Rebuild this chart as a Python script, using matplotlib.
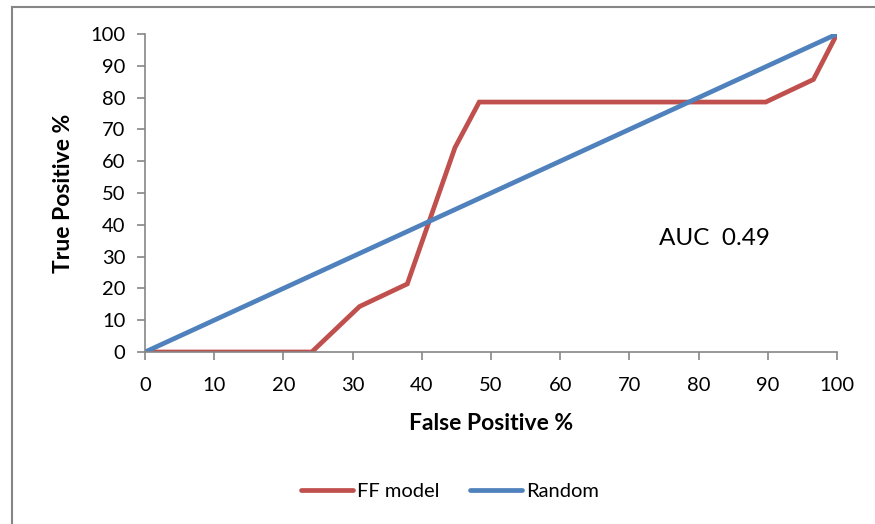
import numpy as np
import matplotlib.pyplot as plt
from matplotlib.lines import Line2D

# datos da curva ROC
fp_model = [0, 24.1, 31.0, 37.9, 44.8, 48.3, 89.7, 96.6, 100]
tp_model = [0, 0, 14.3, 21.4, 64.3, 78.6, 78.6, 85.7, 100]
fp_random = [0, 100]
tp_random = [0, 100]
ticks = list(range(0, 101, 10))
auc_label = "AUC  0.49"

plt.rcParams['font.family'] = ['Lato', 'DejaVu Sans']
grey = '#868686'

fig = plt.figure(figsize=(8.75, 5.24), dpi=100)
W, H = 875, 524
ax = fig.add_axes([145 / W, 1 - 352 / H, (837 - 145) / W, (352 - 34) / H])

ax.plot(fp_model, tp_model, color='#C0504D', lw=3.4, label='FF model',
        solid_capstyle='round', solid_joinstyle='miter')
ax.plot(fp_random, tp_random, color='#4F81BD', lw=3.4, label='Random',
        solid_capstyle='round')

ax.set_xlim(0, 100)
ax.set_ylim(0, 100)
ax.set_xticks(ticks)
ax.set_yticks(ticks)
for s in ['top', 'right']:
    ax.spines[s].set_visible(False)
for s in ['left', 'bottom']:
    ax.spines[s].set_color(grey)
    ax.spines[s].set_linewidth(1.2)
ax.tick_params(colors=grey, labelcolor='black', labelsize=14.5, length=6, width=1.2)
ax.tick_params(axis='y', pad=8)
ax.tick_params(axis='x', pad=12)

ax.set_xlabel('False Positive %', fontsize=16.5, fontweight='bold', labelpad=14)
ax.set_ylabel('True Positive %', fontsize=16.5, fontweight='bold', labelpad=12)
ax.text(74.3, 33.8, auc_label, fontsize=17.5)

handles = [Line2D([], [], color='#C0504D', lw=3.4, solid_capstyle='round'),
           Line2D([], [], color='#4F81BD', lw=3.4, solid_capstyle='round')]
fig.legend(handles, ['FF model', 'Random'], loc='center', bbox_to_anchor=(450 / W, 1 - 491 / H),
           ncol=2, frameon=False, fontsize=14.5, handlelength=2.6, handletextpad=0.2,
           columnspacing=1.5)

# bordo do grafico
fig.add_artist(Line2D([12 / W, 12 / W], [0, 1 - 7 / H], color=grey, lw=1.5))
fig.add_artist(Line2D([12 / W, 1], [1 - 7 / H, 1 - 7 / H], color=grey, lw=1.5))

fig.savefig('out.png', dpi=100)
